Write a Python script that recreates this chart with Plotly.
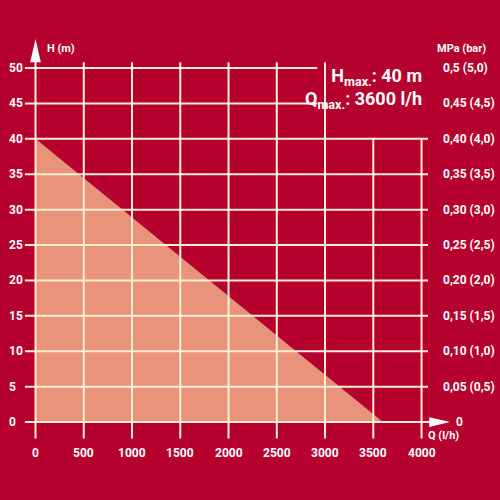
import plotly.graph_objects as go

# Kennlinie / Achsen
q_ticks = [0, 500, 1000, 1500, 2000, 2500, 3000, 3500, 4000]
h_ticks = [0, 5, 10, 15, 20, 25, 30, 35, 40, 45, 50]
mpa_labels = ["0", "0,05 (0,5)", "0,10 (1,0)", "0,15 (1,5)", "0,20 (2,0)",
              "0,25 (2,5)", "0,30 (3,0)", "0,35 (3,5)", "0,40 (4,0)",
              "0,45 (4,5)", "0,5 (5,0)"]
curve_q = [0, 3600]
curve_h = [40, 0]
h_max = 40
q_max = 3600

BG = "#b6002d"
FILL = "#e8937a"
GRID = "#fcefd6"
FONT = "Roboto, Liberation Sans Narrow, sans-serif"

fig = go.Figure()

# Fläche unter der Kennlinie
fig.add_trace(go.Scatter(x=[0] + curve_q, y=[0] + curve_h, fill="toself",
                         fillcolor=FILL, mode="none", hoverinfo="skip"))

# Gitterlinien (oben rechts frei für den Textkasten)
gx, gy = [], []
for h in h_ticks[1:]:
    gx += [-110, 4067 if h <= h_max else 2920, None]
    gy += [h, h, None]
for q in q_ticks[1:]:
    gx += [q, q, None]
    gy += [-2.3, 50.8 if q <= 3000 else h_max, None]
fig.add_trace(go.Scatter(x=gx, y=gy, mode="lines", line=dict(color=GRID, width=2),
                         hoverinfo="skip"))

# Achsen
fig.add_trace(go.Scatter(x=[-110, 4100, None, 0, 0], y=[0, 0, None, -2.3, 51.5],
                         mode="lines", line=dict(color=GRID, width=2), hoverinfo="skip"))
fig.add_shape(type="path", path="M 4080,-0.7 L 4295,0 L 4080,0.7 Z",
              fillcolor="white", line=dict(width=0))
fig.add_shape(type="path", path="M -55,50.8 L 0,54.1 L 55,50.8 Z",
              fillcolor="white", line=dict(width=0))

tick_font = dict(family=FONT, size=12, color="white", weight="bold")

for h in h_ticks:
    fig.add_annotation(x=-295, y=h, text=str(h), showarrow=False,
                       xanchor="left", font=tick_font)
for h, lab in zip(h_ticks, mpa_labels):
    fig.add_annotation(x=4340 if h == 0 else 4200, y=h, text=lab, showarrow=False,
                       xanchor="left", font=tick_font)
for q in q_ticks:
    fig.add_annotation(x=q, y=-4.3, text=str(q), showarrow=False,
                       font=tick_font)

small_font = dict(family=FONT, size=11, color="white", weight="bold")
fig.add_annotation(x=95, y=52.7, text="H (m)", showarrow=False,
                   xanchor="left", font=small_font)
fig.add_annotation(x=4135, y=52.8, text="MPa (bar)", showarrow=False,
                   xanchor="left", font=small_font)
fig.add_annotation(x=4225, y=-1.9, text="Q (l/h)", showarrow=False,
                   font=small_font)

# Textkasten oben rechts
big_font = dict(family=FONT, size=18, color="white", weight="bold")
fig.add_annotation(x=4025, y=47.1,
                   text="H<sub>max.</sub>: %d m<br>Q<sub>max.</sub>: %d l/h" % (h_max, q_max),
                   showarrow=False, xanchor="right", align="right", font=big_font)

fig.update_xaxes(range=[-368, 4813], visible=False)
fig.update_yaxes(range=[-11.0, 59.6], visible=False)
fig.update_layout(width=500, height=500, margin=dict(l=0, r=0, t=0, b=0),
                  paper_bgcolor=BG, plot_bgcolor=BG, showlegend=False)

fig.write_html("out.html", config={"displayModeBar": False},
               post_script="document.body.style.margin='0';")
